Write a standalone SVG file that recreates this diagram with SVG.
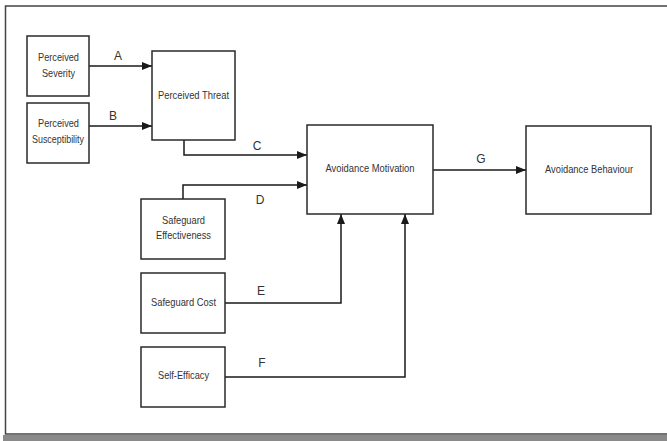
<svg xmlns="http://www.w3.org/2000/svg" width="667" height="441" viewBox="0 0 667 441">
<defs>
<marker id="ah" viewBox="0 0 10 8" refX="10" refY="4" markerWidth="10" markerHeight="8" markerUnits="userSpaceOnUse" orient="auto">
<path d="M0,0 L10,4 L0,8 Z" fill="#1a1a1a"/>
</marker>
</defs>
<style>
.box{fill:#fff;stroke:#2a2a2a;stroke-width:1.5}
.t{font-family:"Liberation Sans",Arial,sans-serif;font-size:11px;fill:#333;text-anchor:middle}
.lbl{font-family:"Liberation Sans",Arial,sans-serif;font-size:12px;fill:#333;text-anchor:middle}
.c{fill:none;stroke:#1a1a1a;stroke-width:1.5;marker-end:url(#ah)}
</style>
<rect x="0" y="0" width="667" height="441" fill="#fff"/>
<rect x="3" y="435" width="664" height="6" fill="#8a8a8a"/>
<rect x="5.5" y="6" width="670" height="428" fill="#fff" stroke="#444" stroke-width="1.5"/>
<g id="connectors">
<path class="c" d="M89,66 H152"/>
<path class="c" d="M89,126 H152"/>
<path class="c" d="M184,140 V155 H307"/>
<path class="c" d="M183,200 V185 H307"/>
<path class="c" d="M225,303 H341 V214"/>
<path class="c" d="M225,377 H405 V214"/>
<path class="c" d="M433,170 H526"/>
<text class="lbl" x="118" y="60">A</text>
<text class="lbl" x="113" y="120">B</text>
<text class="lbl" x="257" y="150">C</text>
<text class="lbl" x="260" y="204">D</text>
<text class="lbl" x="261" y="295">E</text>
<text class="lbl" x="262" y="367">F</text>
<text class="lbl" x="481" y="163">G</text>
</g>
<g id="perceived-severity">
<rect class="box" x="27" y="36" width="62" height="60"/>
<text class="t" x="58.5" y="61" textLength="41" lengthAdjust="spacingAndGlyphs">Perceived</text>
<text class="t" x="58.5" y="77" textLength="33" lengthAdjust="spacingAndGlyphs">Severity</text>
</g>
<g id="perceived-susceptibility">
<rect class="box" x="27" y="103" width="62" height="60"/>
<text class="t" x="58.5" y="127" textLength="41" lengthAdjust="spacingAndGlyphs">Perceived</text>
<text class="t" x="58" y="143" textLength="52" lengthAdjust="spacingAndGlyphs">Susceptibility</text>
</g>
<g id="perceived-threat">
<rect class="box" x="152" y="51" width="83" height="89"/>
<text class="t" x="193.5" y="99" textLength="71" lengthAdjust="spacingAndGlyphs">Perceived Threat</text>
</g>
<g id="avoidance-motivation">
<rect class="box" x="307" y="125" width="126" height="89"/>
<text class="t" x="370" y="172" textLength="89" lengthAdjust="spacingAndGlyphs">Avoidance Motivation</text>
</g>
<g id="avoidance-behaviour">
<rect class="box" x="526" y="126" width="125" height="88"/>
<text class="t" x="589" y="173" textLength="88" lengthAdjust="spacingAndGlyphs">Avoidance Behaviour</text>
</g>
<g id="safeguard-effectiveness">
<rect class="box" x="141" y="199" width="84" height="60"/>
<text class="t" x="183.5" y="224" textLength="43" lengthAdjust="spacingAndGlyphs">Safeguard</text>
<text class="t" x="183.5" y="239" textLength="55" lengthAdjust="spacingAndGlyphs">Effectiveness</text>
</g>
<g id="safeguard-cost">
<rect class="box" x="141" y="273" width="84" height="60"/>
<text class="t" x="183.5" y="306" textLength="65" lengthAdjust="spacingAndGlyphs">Safeguard Cost</text>
</g>
<g id="self-efficacy">
<rect class="box" x="141" y="347" width="84" height="60"/>
<text class="t" x="183.5" y="379" textLength="51" lengthAdjust="spacingAndGlyphs">Self-Efficacy</text>
</g>
</svg>
